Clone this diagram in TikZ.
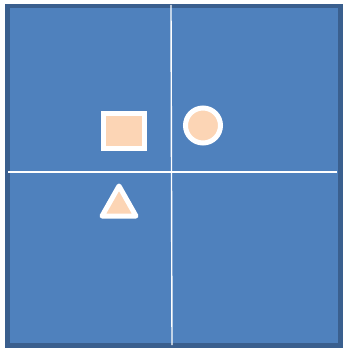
\documentclass[tikz,border=0pt]{standalone}
\definecolor{panelBlue}{HTML}{4F81BD}
\definecolor{panelEdge}{HTML}{3A5F8E}
\definecolor{shapePeach}{HTML}{FCD5B5}
\usepackage{tikz}
\usetikzlibrary{positioning}
\tikzset{
 axisline/.style={draw=white, line width=1.4pt},
 markshape/.style={draw=white, fill=shapePeach, line width=5pt, inner sep=0pt}
}

\begin{document}
\begin{tikzpicture}[x=1pt, y=-1pt]
\useasboundingbox (0,0) rectangle (342,350);
\fill[panelBlue, draw=panelEdge, line width=4.5pt] (7.5,6) rectangle (340.5,345.5);
% quadrant lines
\coordinate (vtop) at (171,5);
\coordinate (vbot) at (172,345);
\coordinate (hleft) at (8,172);
\coordinate (hright) at (337,172);
\draw[axisline] (vtop) -- (vbot);
\draw[axisline] (hleft) -- (hright);
% marks
\node[markshape, rectangle, minimum width=41pt, minimum height=35pt] (square) at (124,131) {};
\node[markshape, circle, minimum size=35pt] (disc) at (203,125.5) {};
\draw[markshape, line join=round] (119,186) -- (136,216) -- (102,216) -- cycle;
\end{tikzpicture}
\end{document}
